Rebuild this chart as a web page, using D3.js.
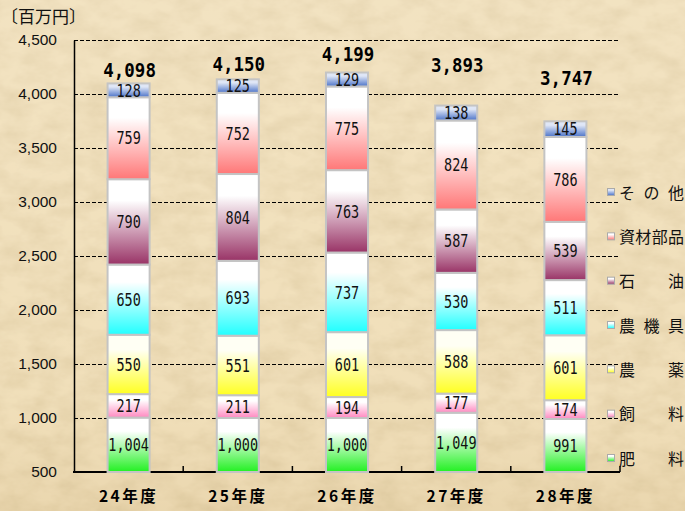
<!DOCTYPE html>
<html><head><meta charset="utf-8">
<script src="https://cdn.jsdelivr.net/npm/d3@7"></script>
<style>html,body{margin:0;padding:0;background:#efdfbc;}svg{display:block;}</style>
</head><body><svg id="c" width="685" height="511"></svg>
<script>
const categories = ["24年度","25年度","26年度","27年度","28年度"];
const seriesNames = ["肥料","飼料","農薬","農機具","石油","資材部品","その他"];
const legendLabels = ["肥料","飼料","農薬","農機具","石油","資材部品","その他"];
const fertilizer = [1004,1000,1000,1049,991];
const feed = [217,211,194,177,174];
const pesticide = [550,551,601,588,601];
const machinery = [650,693,737,530,511];
const oil = [790,804,763,587,539];
const materials = [759,752,775,824,786];
const other = [128,125,129,138,145];
const totals = [4098,4150,4199,3893,3747];
const yTicks = [500,1000,1500,2000,2500,3000,3500,4000,4500];

// layout only: how far (px) each total label's baseline sits above its bar top
const totalLabelLift = [6, 8.5, 11.5, 34, 36];

const seriesValues = [fertilizer,feed,pesticide,machinery,oil,materials,other];
const colors = [
  ["#ffffff","#22f022"],
  ["#ffffff","#ff88c0"],
  ["#fffff4","#ffff22"],
  ["#ffffff","#22ffff"],
  ["#ffffff","#993366"],
  ["#ffffff","#ff7777"],
  ["#dfe6f6","#4a72c8"]
];

const svg = d3.select("#c");
const defs = svg.append("defs");

// background texture
const bg = defs.append("linearGradient").attr("id","bgg").attr("x1",0).attr("y1",0).attr("x2",0).attr("y2",1);
bg.append("stop").attr("offset","0").attr("stop-color","#f4e5c5");
bg.append("stop").attr("offset","0.8").attr("stop-color","#efdcb4");
bg.append("stop").attr("offset","1").attr("stop-color","#e3cc9f");
const f = defs.append("filter").attr("id","tex").attr("x",0).attr("y",0).attr("width","100%").attr("height","100%");
f.append("feTurbulence").attr("type","fractalNoise").attr("baseFrequency","0.035 0.06").attr("numOctaves",4).attr("seed",3).attr("result","n");
f.append("feColorMatrix").attr("in","n").attr("type","matrix")
  .attr("values","0 0 0 0 0.60  0 0 0 0 0.47  0 0 0 0 0.25  0 0 0 -1.1 0.75").attr("result","c");
f.append("feComposite").attr("in","c").attr("in2","SourceGraphic").attr("operator","over");
svg.append("rect").attr("width",685).attr("height",511).attr("fill","url(#bgg)");
svg.append("rect").attr("width",685).attr("height",511).attr("fill","#f2e2bf").attr("filter","url(#tex)").attr("opacity",0.5);

colors.forEach((c,i)=>{
  const g = defs.append("linearGradient").attr("id","g"+i).attr("x1",0).attr("y1",0).attr("x2",0).attr("y2",1);
  g.append("stop").attr("offset","0").attr("stop-color",c[0]);
  g.append("stop").attr("offset","0.25").attr("stop-color",c[0]);
  g.append("stop").attr("offset","1").attr("stop-color",c[1]);
});

const x0 = 74, x1 = 620, yTop = 40, yBot = 472;
const x = d3.scaleBand().domain(categories).range([x0,x1]).paddingInner(0.615).paddingOuter(0.3075);
const y = d3.scaleLinear().domain([500,4500]).range([yBot,yTop]);

// unit label
svg.append("text").attr("x",1).attr("y",23).attr("font-family","Noto Sans CJK JP").attr("font-size",17).attr("fill","#111").text("〔百万円〕");

// gridlines
svg.append("g").selectAll("line").data(yTicks.filter(v=>v>500)).join("line")
  .attr("x1",x0).attr("x2",x1).attr("y1",d=>Math.round(y(d))+0.5).attr("y2",d=>Math.round(y(d))+0.5)
  .attr("stroke","#000").attr("stroke-width",1).attr("stroke-dasharray","4,2");

// y axis
const yAxis = d3.axisLeft(y).tickValues(yTicks).tickSize(0).tickPadding(17).tickFormat(d3.format(","));
const ga = svg.append("g").attr("transform",`translate(${x0},0)`).call(yAxis);
ga.select(".domain").attr("stroke","#000").attr("stroke-width",1.5);
ga.selectAll("text").attr("font-family","Liberation Sans, Arial").attr("font-size",15.5).attr("fill","#111");

// x axis
const xAxis = d3.axisBottom(x).tickSize(0).tickPadding(19);
const gx = svg.append("g").attr("transform",`translate(0,${yBot})`).call(xAxis);
gx.select(".domain").remove();
gx.selectAll("text").attr("font-family","Noto Sans CJK JP").attr("font-weight","bold").attr("font-size",15.5).attr("letter-spacing","2.5px").attr("fill","#000");
svg.append("line").attr("x1",x0-1).attr("x2",x1).attr("y1",yBot).attr("y2",yBot).attr("stroke","#000").attr("stroke-width",2);
const bw = (x1-x0)/categories.length;
svg.append("g").selectAll("line").data(d3.range(1,categories.length+1)).join("line")
  .attr("x1",d=>x0+d*bw).attr("x2",d=>x0+d*bw).attr("y1",yBot).attr("y2",yBot-6).attr("stroke","#000").attr("stroke-width",1.5);

// stacked bars (visible part clipped at the 500 baseline)
const table = categories.map((c,ci)=>{const o={cat:c}; seriesNames.forEach((s,si)=>o[s]=seriesValues[si][ci]); return o;});
const stack = d3.stack().keys(seriesNames)(table);
const yc = v => Math.min(y(v), yBot);
const barsG = svg.append("g");
stack.forEach((layer,si)=>{
  barsG.append("g").selectAll("rect").data(layer).join("rect")
    .attr("x",d=>x(d.data.cat)).attr("width",x.bandwidth())
    .attr("y",d=>y(d[1])).attr("height",d=>yc(d[0])-y(d[1]))
    .attr("fill","url(#g"+si+")").attr("stroke","#c4c4c4").attr("stroke-width",2);
});
const fmt = d3.format(",");
stack.forEach((layer,si)=>{
  svg.append("g").selectAll("text").data(layer).join("text")
    .attr("text-anchor","middle").attr("dy","0.36em")
    .attr("font-family","DejaVu Sans Mono").attr("font-size",15).attr("fill","#111")
    .attr("transform",d=>{const cx=x(d.data.cat)+x.bandwidth()/2; const cy=(y(d[1])+yc(d[0]))/2; return `translate(${cx},${cy}) scale(0.9,1.15)`;})
    .text(d=>fmt(d.data[seriesNames[si]]));
});
// totals
svg.append("g").selectAll("text").data(totals).join("text")
  .attr("text-anchor","middle").attr("font-family","DejaVu Sans Mono").attr("font-weight","bold").attr("font-size",19).attr("fill","#000")
  .attr("transform",(d,i)=>{const cx=x(categories[i])+x.bandwidth()/2+1; const cy=y(d3.sum(seriesValues,s=>s[i]))-totalLabelLift[i]; return `translate(${cx},${cy}) scale(0.92,1.05)`;})
  .text(d=>fmt(d));

// legend
const legY = d3.scaleLinear().domain([0,6]).range([459,193]);
const lg = svg.append("g");
legendLabels.forEach((lab,i)=>{
  const cy = legY(i);
  lg.append("rect").attr("x",607.5).attr("y",cy-4.5).attr("width",7).attr("height",7)
    .attr("fill","url(#g"+i+")").attr("stroke","#aaa").attr("stroke-width",1);
  const chars = Array.from(lab);
  const n = chars.length, w0 = 619, span = 65, cw = 16;
  chars.forEach((ch,k)=>{
    const xx = n===1 ? w0 : w0 + k*(span-cw)/(n-1);
    lg.append("text").attr("x",xx).attr("y",cy).attr("dy","0.36em")
      .attr("font-family","Noto Sans CJK JP").attr("font-size",16).attr("fill","#111").text(ch);
  });
});
</script></body></html>
